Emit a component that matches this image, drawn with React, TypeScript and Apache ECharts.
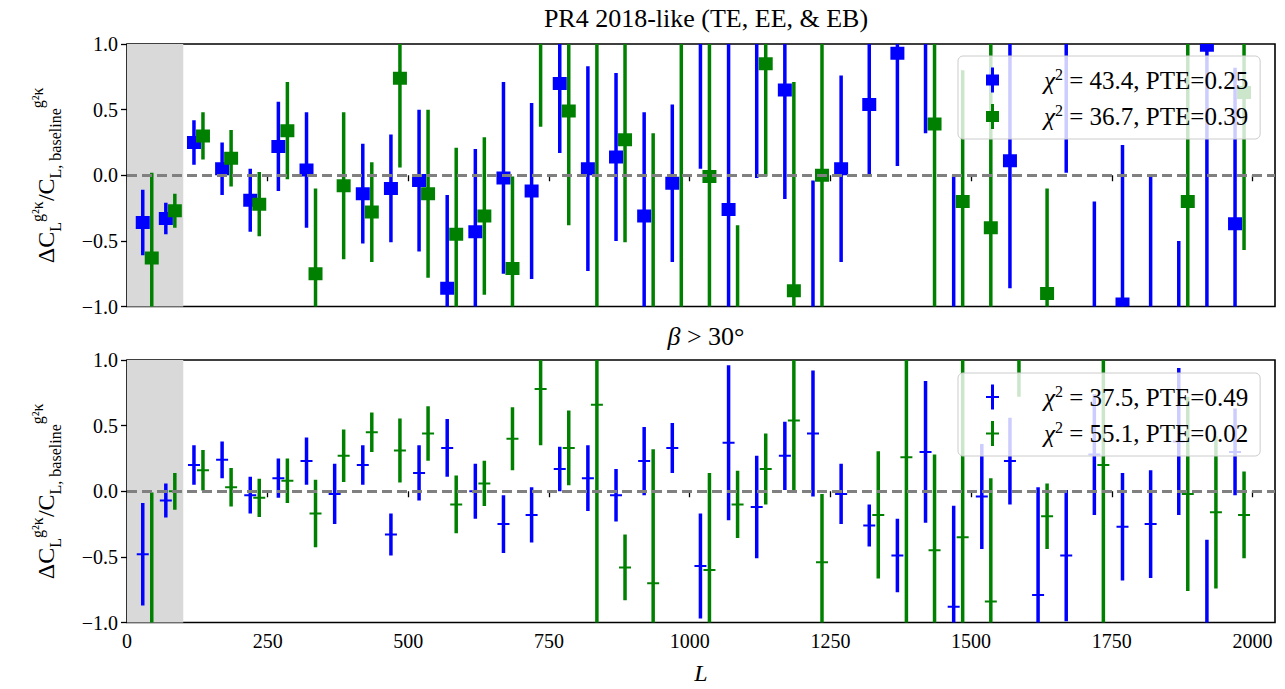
import React, { useEffect, useRef } from "react";
import * as echarts from "echarts";

// Multipole bin centres (blue = first series, green = second series, slightly offset)
const blueL = [28, 69, 119, 169, 219, 269, 319, 369, 419, 469, 519, 569, 619, 669, 719, 769, 819, 869, 919, 969,
  1019, 1069, 1119, 1169, 1219, 1269, 1319, 1369, 1419, 1469, 1519, 1569, 1619, 1669, 1719, 1769, 1819, 1869, 1919, 1969];
const greenL = [44, 85, 135, 185, 235, 285, 335, 385, 435, 485, 535, 585, 635, 685, 735, 785, 835, 885, 935, 985,
  1035, 1085, 1135, 1185, 1235, 1285, 1335, 1385, 1435, 1485, 1535, 1585, 1635, 1685, 1735, 1785, 1835, 1885, 1935, 1985];

// Top panel: PR4 2018-like (TE, EE, & EB)
const topBlueVal = [-0.36, -0.33, 0.25, 0.05, -0.19, 0.22, 0.04, null, -0.14, -0.10, -0.04, -0.86, -0.43, -0.02, -0.12, 0.70, 0.05, 0.14, -0.31, -0.06,
  1.30, -0.26, 1.20, 0.65, -1.20, 0.05, 0.54, 0.93, 1.20, -1.10, null, 0.11, null, 1.30, -1.30, -0.98, -1.20, -1.30, 0.99, -0.37];
const topBlueErr = [0.25, 0.12, 0.17, 0.20, 0.24, 0.34, 0.44, null, 0.38, 0.41, 0.54, 0.71, 0.63, 0.73, 0.67, 0.53, 0.78, 0.64, 0.79, 0.60,
  1.25, 1.40, 1.22, 0.83, 1.16, 0.71, 0.54, 0.86, 0.88, 1.10, null, 0.97, null, 1.28, 1.10, 1.21, 1.19, 0.80, 2.10, 1.19];
const topGreenVal = [-0.63, -0.27, 0.30, 0.13, -0.22, 0.34, -0.75, -0.08, -0.28, 0.74, -0.14, -0.45, -0.31, -0.71, 1.25, 0.49, -1.30, 0.27, -1.20, 1.30,
  -0.01, -1.30, 0.85, -0.88, 0.00, null, null, null, 0.39, -0.20, -0.40, null, -0.90, null, null, null, null, -0.20, null, 0.63];
const topGreenErr = [0.65, 0.13, 0.18, 0.215, 0.245, 0.37, 0.65, 0.56, 0.38, 0.68, 0.64, 0.66, 0.60, 0.70, 0.88, 0.87, 2.50, 0.78, 1.52, 2.50,
  1.30, 0.92, 0.86, 1.59, 1.50, null, null, null, 1.50, 1.00, 1.50, null, 0.80, null, null, null, null, 1.30, null, 1.20];

// Bottom panel: beta > 30 deg
const botBlueVal = [-0.48, -0.07, 0.20, 0.24, -0.03, 0.10, 0.23, -0.02, 0.20, -0.33, 0.14, 0.33, 0.00, -0.25, -0.18, 0.17, 0.10, -0.03, 0.23, 0.33,
  -0.57, 0.37, -0.12, 0.27, 0.44, -0.02, -0.26, -0.49, 0.30, -0.88, -0.04, 0.23, -0.79, -0.49, 0.28, -0.27, -0.25, 0.38, -1.20, 0.30];
const botBlueErr = [0.39, 0.13, 0.15, 0.14, 0.14, 0.15, 0.18, 0.23, 0.15, 0.16, 0.21, 0.22, 0.21, 0.22, 0.21, 0.17, 0.25, 0.20, 0.26, 0.19,
  0.40, 0.59, 0.39, 0.26, 0.48, 0.23, 0.16, 0.28, 0.54, 0.77, 0.40, 0.33, 0.82, 0.50, 0.46, 0.41, 0.41, 0.56, 0.83, 0.33];
const botGreenVal = [-1.05, 0.00, 0.16, 0.03, -0.05, 0.08, -0.17, 0.27, 0.45, 0.31, 0.44, -0.10, 0.06, 0.40, 0.78, 0.33, 0.66, -0.58, -0.70, null,
  -0.60, -0.10, 0.17, 0.54, -0.54, null, -0.18, 0.26, -0.45, -0.35, -0.84, 1.50, -0.19, null, 0.20, null, null, -0.02, -0.16, -0.18];
const botGreenErr = [1.04, 0.14, 0.155, 0.147, 0.146, 0.17, 0.257, 0.20, 0.15, 0.244, 0.207, 0.22, 0.173, 0.24, 0.43, 0.285, 1.70, 0.25, 1.02, null,
  0.74, 0.256, 0.27, 0.53, 0.52, null, 0.485, 1.30, 0.73, 1.40, 0.94, 0.78, 0.25, null, 1.50, null, null, 0.74, 0.58, 0.33];

const xTicks = [0, 250, 500, 750, 1000, 1250, 1500, 1750, 2000];
const yTicks = [-1, -0.5, 0, 0.5, 1];
const topLegend = ["χ² = 43.4, PTE=0.25", "χ² = 36.7, PTE=0.39"];
const botLegend = ["χ² = 37.5, PTE=0.49", "χ² = 55.1, PTE=0.02"];
const titles = ["PR4 2018-like (TE, EE, & EB)", "β > 30°"];

const BLUE = "#0000ff";
const GREEN = "#008000";
const FONT = "Liberation Serif";

function build(L: number[], v: (number | null)[], e: (number | null)[]) {
  const out: number[][] = [];
  for (let i = 0; i < L.length; i++) {
    if (v[i] !== null && e[i] !== null) out.push([L[i], v[i] as number, e[i] as number]);
  }
  return out;
}

function makeRender(kind: "square" | "tick", color: string) {
  return (params: any, api: any) => {
    const x = api.value(0), y = api.value(1), e = api.value(2);
    const c = api.coord([x, y]);
    const hi = api.coord([x, y + e]);
    const lo = api.coord([x, y - e]);
    const children: any[] = [
      { type: "line", shape: { x1: c[0], y1: hi[1], x2: c[0], y2: lo[1] }, style: { stroke: color, lineWidth: 3.5 } },
    ];
    if (kind === "square") {
      children.push({ type: "rect", shape: { x: c[0] - 7, y: c[1] - 6.5, width: 14, height: 13 }, style: { fill: color } });
    } else {
      children.push({ type: "line", shape: { x1: c[0] - 6, y1: c[1], x2: c[0] + 6, y2: c[1] }, style: { stroke: color, lineWidth: 2 } });
    }
    return { type: "group", children };
  };
}

const SQUARE_ICON = "path://M5,0 L8,0 L8,7 L13,7 L13,18 L8,18 L8,25 L5,25 L5,18 L0,18 L0,7 L5,7 Z";
const TICK_ICON = "path://M5,0 L8,0 L8,11.5 L13,11.5 L13,13.5 L8,13.5 L8,25 L5,25 L5,13.5 L0,13.5 L0,11.5 L5,11.5 Z";

const legendRich = {
  g: { fontFamily: FONT, fontStyle: "italic", fontSize: 25, color: "#000", padding: [0, 0, 0, 40] },
  s: { fontFamily: FONT, fontSize: 16, color: "#000", verticalAlign: "top", lineHeight: 16 },
  t: { fontFamily: FONT, fontSize: 25, color: "#000", lineHeight: 28 },
};

const yName = "{m|ΔC}{sub|L}{sup|g²κ}{m|/C}{sub|L, baseline}{sup|g²κ}";
const yRich = {
  m: { fontFamily: FONT, fontSize: 24, color: "#000", lineHeight: 34, verticalAlign: "middle" },
  sub: { fontFamily: FONT, fontSize: 16, color: "#000", verticalAlign: "bottom", lineHeight: 16 },
  sup: { fontFamily: FONT, fontSize: 16, color: "#000", verticalAlign: "top", lineHeight: 16 },
};

const tickRich = { a: { fontFamily: FONT, fontSize: 20, color: "#000" } };

function xAxisOpt(gridIndex: number, showLabels: boolean) {
  return {
    type: "value",
    gridIndex,
    min: 0,
    max: 2040,
    interval: 250,
    axisLine: { show: false },
    splitLine: { show: false },
    axisTick: { show: true, customValues: xTicks, length: 6, lineStyle: { color: "#000", width: 1.3 } },
    axisLabel: {
      show: showLabels,
      customValues: xTicks,
      fontFamily: FONT,
      fontSize: 20,
      color: "#000",
      margin: 8,
      formatter: (v: number) => "{a|" + String(v) + "}",
      rich: tickRich,
    },
    name: showLabels ? "L" : "",
    nameLocation: "middle",
    nameGap: 38,
    nameTextStyle: { fontFamily: FONT, fontStyle: "italic", fontSize: 24, color: "#000" },
  };
}

function yAxisOpt(gridIndex: number) {
  return {
    type: "value",
    gridIndex,
    min: -1,
    max: 1,
    interval: 0.5,
    axisLine: { show: false },
    splitLine: { show: false },
    axisTick: { show: true, customValues: yTicks, length: 6, lineStyle: { color: "#000", width: 1.3 } },
    axisLabel: {
      customValues: yTicks,
      fontFamily: FONT,
      fontSize: 20,
      color: "#000",
      margin: 9,
      formatter: (v: number) => "{a|" + v.toFixed(1).replace("-", "−") + "}",
      rich: tickRich,
    },
    name: yName,
    nameLocation: "middle",
    nameRotate: 90,
    nameGap: 64,
    nameTextStyle: { fontFamily: FONT, rich: yRich },
  };
}

function bgSeries(idx: number) {
  return {
    type: "line",
    xAxisIndex: idx,
    yAxisIndex: idx,
    data: [],
    silent: true,
    z: 1,
    markArea: {
      silent: true,
      itemStyle: { color: "#d9d9d9", opacity: 1 },
      data: [[{ xAxis: 0 }, { xAxis: 100 }]],
    },
    markLine: {
      silent: true,
      symbol: "none",
      label: { show: false },
      lineStyle: { color: "#808080", width: 3, type: [10, 5] },
      data: [{ yAxis: 0 }],
    },
  };
}

function errSeries(name: string, idx: number, data: number[][], kind: "square" | "tick", color: string) {
  return {
    type: "custom",
    name,
    xAxisIndex: idx,
    yAxisIndex: idx,
    clip: true,
    z: 3,
    itemStyle: { color },
    color,
    renderItem: makeRender(kind, color),
    encode: { x: 0, y: 1 },
    data,
  };
}

function legendOpt(top: number, names: string[], icon: string) {
  return {
    left: 958,
    top,
    orient: "vertical",
    selectedMode: false,
    backgroundColor: "rgba(255,255,255,0.8)",
    borderColor: "#cccccc",
    borderWidth: 1,
    borderRadius: 5,
    padding: [10, 12, 10, 28],
    itemWidth: 13,
    itemHeight: 25,
    itemGap: 10,
    icon,
    data: names.map((n) => ({ name: n, icon })),
    formatter: (name: string) => "{g|χ}{s|2}{t|" + name.replace("χ²", "") + "}",
    textStyle: { fontFamily: FONT, rich: legendRich },
  };
}

export default function App() {
  const ref = useRef<HTMLDivElement>(null);
  useEffect(() => {
    if (!ref.current) return;
    const chart = echarts.init(ref.current, null, { renderer: "svg" });
    chart.setOption({
      animation: false,
      backgroundColor: "#ffffff",
      textStyle: { fontFamily: FONT, color: "#000" },
      title: [
        { text: titles[0], left: 701, top: 0, textAlign: "center", textStyle: { fontFamily: FONT, fontSize: 26, fontWeight: "normal", color: "#000" } },
        {
          text: "{i|β}{n| > 30°}",
          left: 701,
          top: 318,
          textAlign: "center",
          textStyle: {
            fontWeight: "normal",
            rich: {
              i: { fontFamily: FONT, fontStyle: "italic", fontWeight: "normal", fontSize: 26, color: "#000" },
              n: { fontFamily: FONT, fontWeight: "normal", fontSize: 26, color: "#000" },
            },
          },
        },
      ],
      grid: [
        { left: 127, right: 10, top: 44, height: 262.5, show: true, borderColor: "#000", borderWidth: 1.6, backgroundColor: "transparent" },
        { left: 127, right: 10, top: 360, height: 262.5, show: true, borderColor: "#000", borderWidth: 1.6, backgroundColor: "transparent" },
      ],
      xAxis: [xAxisOpt(0, false), xAxisOpt(1, true)],
      yAxis: [yAxisOpt(0), yAxisOpt(1)],
      legend: [legendOpt(56, topLegend, SQUARE_ICON), legendOpt(373, botLegend, TICK_ICON)],
      series: [
        bgSeries(0),
        bgSeries(1),
        errSeries(topLegend[0], 0, build(blueL, topBlueVal, topBlueErr), "square", BLUE),
        errSeries(topLegend[1], 0, build(greenL, topGreenVal, topGreenErr), "square", GREEN),
        errSeries(botLegend[0], 1, build(blueL, botBlueVal, botBlueErr), "tick", BLUE),
        errSeries(botLegend[1], 1, build(greenL, botGreenVal, botGreenErr), "tick", GREEN),
      ],
    });
    return () => chart.dispose();
  }, []);
  return (
    <div
      ref={ref}
      style={{ position: "fixed", left: 0, top: 0, width: 1285, height: 689, background: "#fff" }}
    />
  );
}
